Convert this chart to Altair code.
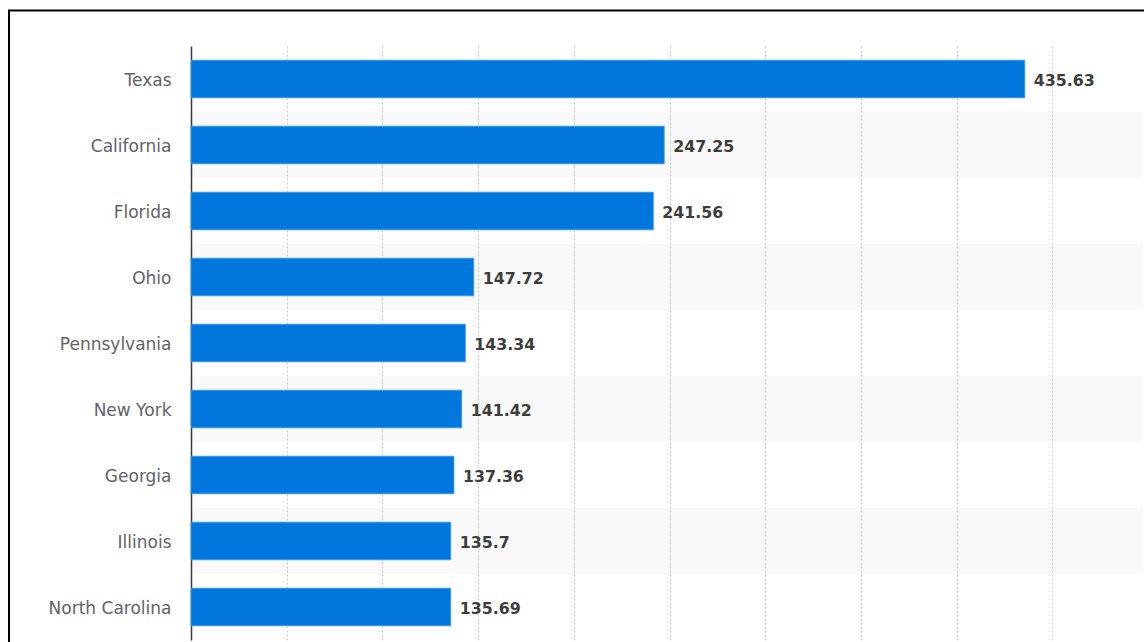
import altair as alt
import pandas as pd

states = ["Texas", "California", "Florida", "Ohio", "Pennsylvania",
          "New York", "Georgia", "Illinois", "North Carolina"]
values = [435.63, 247.25, 241.56, 147.72, 143.34, 141.42, 137.36, 135.7, 135.69]
value_labels = ["435.63", "247.25", "241.56", "147.72", "143.34",
                "141.42", "137.36", "135.7", "135.69"]
grid_ticks = [50, 100, 150, 200, 250, 300, 350, 400, 450]

PLOT_W = 952
PLOT_H = 594
PX_PER_UNIT = 1.914
X_MAX = PLOT_W / PX_PER_UNIT

df = pd.DataFrame({"state": states, "value": values, "label": value_labels})
df["shade"] = [i % 2 == 1 for i in range(len(states))]
band_df = df[df["shade"]]

bands = alt.Chart(band_df).mark_rect(color="#000000", opacity=0.025).encode(
    y=alt.Y("state:N", sort=states,
            scale=alt.Scale(domain=states, paddingInner=0, paddingOuter=0),
            axis=None),
    x=alt.value(0),
    x2=alt.value(PLOT_W),
)

y_bar = alt.Y(
    "state:N", sort=states,
    scale=alt.Scale(domain=states, paddingInner=0.43, paddingOuter=0.215),
    axis=alt.Axis(title=None, ticks=False, tickSize=0, labelPadding=20,
                  labelOffset=1.5,
                  labelFont="DejaVu Sans", labelFontSize=17, labelColor="#626269",
                  domainColor="#3a3a3a", domainWidth=1.5, grid=False),
)
x_bar = alt.X(
    "value:Q",
    scale=alt.Scale(domain=[0, X_MAX], nice=False, zero=True),
    axis=alt.Axis(title=None, labels=False, ticks=False, domain=False, grid=True,
                  values=grid_ticks, gridDash=[2, 2], gridColor="#cdcdcd",
                  gridWidth=1),
)

bars = alt.Chart(df).mark_bar(color="#0077dd", stroke="#3f95e4", strokeWidth=0.8).encode(
    x=x_bar, y=y_bar
)

text = alt.Chart(df).mark_text(
    align="left", baseline="middle", dx=9, dy=1.5, font="DejaVu Sans",
    fontSize=15.8, fontWeight="bold", color="#3d3d3d"
).encode(
    x=alt.X("value:Q"),
    y=alt.Y("state:N", sort=states,
            scale=alt.Scale(domain=states, paddingInner=0.43, paddingOuter=0.215),
            axis=None),
    text="label:N",
)

one = alt.Data(values=[{"k": 1}])
border_v = alt.Chart(one).mark_rule(color="#000000", strokeWidth=2).encode(
    x=alt.value(-182), y=alt.value(-36), y2=alt.value(PLOT_H + 20)
)
border_h = alt.Chart(one).mark_rule(color="#000000", strokeWidth=2).encode(
    x=alt.value(-183), x2=alt.value(PLOT_W + 20), y=alt.value(-35.5)
)

chart = alt.layer(bands, bars, text, border_v, border_h).resolve_scale(
    y="independent"
).properties(
    width=PLOT_W,
    height=PLOT_H,
    autosize=alt.AutoSizeParams(type="none"),
    padding={"left": 191, "top": 46, "right": 1, "bottom": 2},
    background="white",
).configure_view(stroke=None)

chart.save("out.html", embed_options={"renderer": "svg", "actions": False})
